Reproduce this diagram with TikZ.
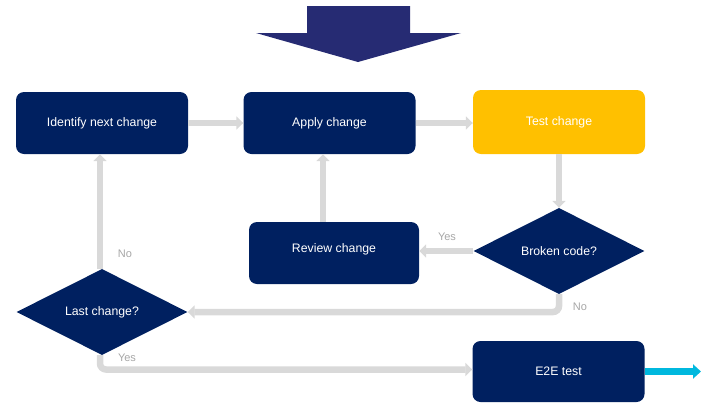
\documentclass[tikz,border=0pt]{standalone}
\usepackage{fontspec}
\setmainfont{Liberation Sans}
\usetikzlibrary{shapes.geometric, arrows.meta, positioning}
\definecolor{flownavy}{HTML}{002060}
\definecolor{flowarrow}{HTML}{262B73}
\definecolor{flowyellow}{HTML}{FFC000}
\definecolor{flowgrey}{HTML}{D9D9D9}
\definecolor{flowlabel}{HTML}{A6A6A6}
\definecolor{flowcyan}{HTML}{00B8DE}

\begin{document}
\begin{tikzpicture}[
  x=1pt, y=-1pt,
  stepbox/.style={
    rectangle, rounded corners=8pt,
    minimum width=172pt, minimum height=62pt,
    fill=#1, text=white, font=\fontsize{12.3}{14}\selectfont
  },
  decision/.style={
    diamond, aspect=2, inner sep=0pt,
    minimum width=171pt, minimum height=86pt,
    fill=flownavy, text=white, font=\fontsize{12.3}{14}\selectfont
  },
  conn/.style={-{Triangle[width=13pt, length=7pt]}, line width=6.5pt, flowgrey, rounded corners=6pt},
  lbl/.style={font=\fontsize{11}{13}\selectfont, text=flowlabel}
]
  \useasboundingbox (0,0) rectangle (710,402);

  % Incoming arrow on top
  \fill[flowarrow] (307,6) -- (410,6) -- (410,33) -- (461,33) -- (358,62)
    -- (256,33) -- (307,33) -- cycle;

  \node[stepbox=flownavy] (ident) at (102,123) {Identify next change};
  \node[stepbox=flownavy] (apply) at (329.5,123) {Apply change};
  \node[stepbox=flowyellow, minimum height=64pt] (test) at (559,122) {Test change};
  \node[decision] (broken) at (559,251) {Broken code?};
  \node[stepbox=flownavy, minimum width=170pt, text depth=10pt] (review) at (334,253) {Review change};
  \node[decision] (last) at (102,312) {Last change?};
  \node[stepbox=flownavy, minimum height=61pt] (e2e) at (558.5,371.5) {E2E test};
  \coordinate (exit) at (701,371.5);

  \draw[conn] (ident) -- (apply);
  \draw[conn] (apply.east) -- (apply.east -| test.west);
  \draw[conn] (test) -- (broken);
  \draw[conn] (broken.west) -- (broken.west -| review.east);
  \draw[conn] ([xshift=-11pt]review.north) -- ([xshift=-11pt]review.north |- apply.south);
  \draw[conn] (broken.south) |- (last.east);
  \draw[conn] ([xshift=-2pt]last.north) -- ([xshift=-2pt]last.north |- ident.south);
  \draw[conn] ([xshift=-2pt]last.south) |- ([yshift=2pt]e2e.west);

  % Exit to the next stage
  \draw[-{Triangle[width=14pt, length=8pt]}, line width=7pt, flowcyan] (e2e.east) -- (exit);

  \node[lbl] (yesreview) at (447,237) {Yes};
  \node[lbl] (nobroken) at (580,307) {No};
  \node[lbl] (nolast) at (125,254) {No};
  \node[lbl] (yeslast) at (127,358) {Yes};
\end{tikzpicture}
\end{document}
